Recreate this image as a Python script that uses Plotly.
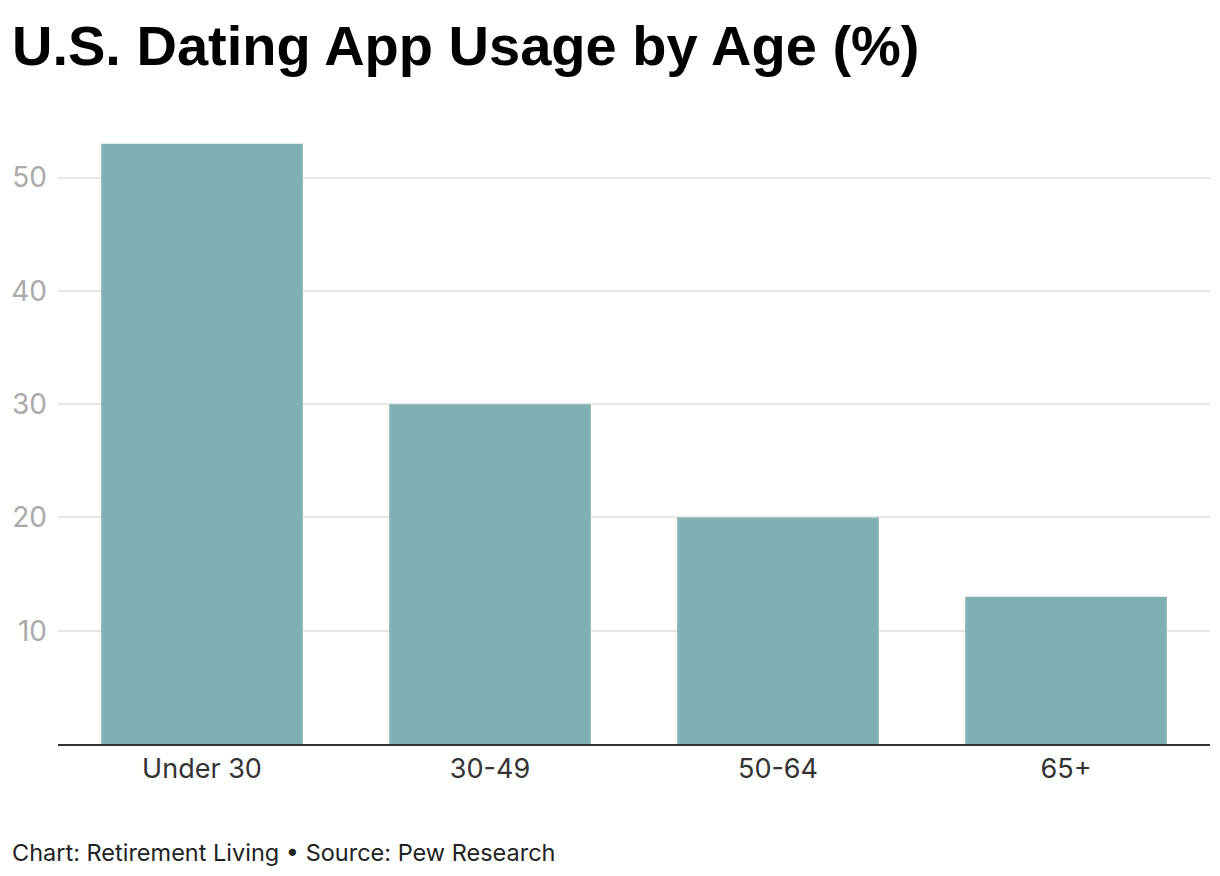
import plotly.graph_objects as go

categories = ["Under 30", "30-49", "50-64", "65+"]
values = [53, 30, 20, 13]
y_ticks = [10, 20, 30, 40, 50]

# page has an 8px body margin; figure sized to fit
W, H = 1212, 868
L, R, T, B = 50, 10, 113, 132
pw, ph = W - L - R, H - T - B

fig = go.Figure(go.Bar(
    x=categories, y=values,
    marker=dict(color="#81b0b2", line=dict(width=0)),
    hoverinfo="x+y",
))

fig.update_layout(
    width=W, height=H,
    margin=dict(l=L, r=R, t=T, b=B, autoexpand=False),
    paper_bgcolor="white", plot_bgcolor="white",
    bargap=0.3,
    showlegend=False,
    font=dict(family="Inter", size=28, color="#333333"),
    title=dict(
        text="<b>U.S. Dating App Usage by Age (%)</b>",
        font=dict(family="Liberation Sans, Arial", size=56, color="#000000"),
        x=4 / W, xanchor="left", xref="container",
        y=1 - 37 / H, yanchor="middle", yref="container",
    ),
    xaxis=dict(
        showgrid=False, showline=True, linecolor="#333333", linewidth=2,
        ticks="", tickfont=dict(family="Inter", size=27, color="#333333"),
        zeroline=False, automargin=False,
    ),
    yaxis=dict(
        range=[0, 55], tickvals=y_ticks, ticks="",
        showgrid=True, gridcolor="#e6e6e6", gridwidth=1.5,
        zeroline=False, showline=False, automargin=False,
        tickfont=dict(family="Inter", size=28, color="#aaaaaa"),
        ticklabelstandoff=10,
    ),
    annotations=[dict(
        text="Chart: Retirement Living • Source: Pew Research",
        xref="paper", yref="paper",
        x=(2 - L) / pw, y=(T + ph - 844) / ph,
        xanchor="left", yanchor="middle", showarrow=False,
        font=dict(family="Inter", size=23.5, color="#222222"),
    )],
)

fig.write_html("out.html")
